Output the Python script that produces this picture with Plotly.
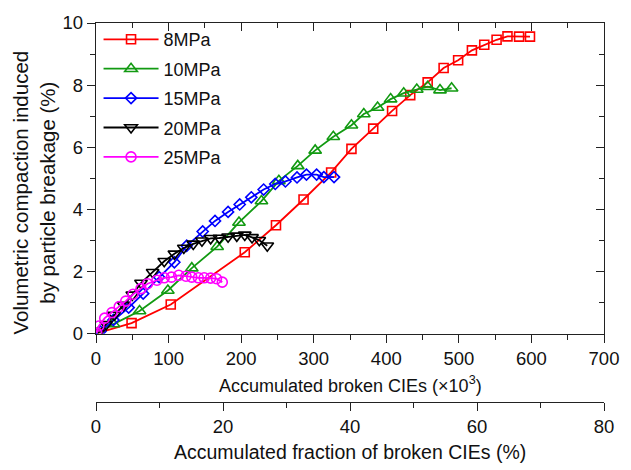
import plotly.graph_objects as go

# ---- data ----
x_8 = [2, 49, 103, 205, 248, 286, 324, 352, 382, 408, 433, 457, 479, 499, 518, 535, 552, 567, 583, 598]
y_8 = [0.02, 0.34, 0.94, 2.62, 3.49, 4.32, 5.19, 5.95, 6.60, 7.17, 7.68, 8.09, 8.55, 8.80, 9.12, 9.30, 9.46, 9.57, 9.56, 9.56]

x_10 = [2, 24, 60, 99, 132, 167, 197, 228, 252, 278, 302, 327, 352, 369, 388, 406, 424, 442, 457, 474, 490]
y_10 = [0.02, 0.31, 0.73, 1.39, 2.11, 2.80, 3.58, 4.27, 4.92, 5.40, 5.90, 6.34, 6.71, 7.07, 7.28, 7.55, 7.74, 7.86, 7.95, 7.84, 7.90]

x_15 = [6, 24, 45, 65, 87, 108, 125, 147, 164, 182, 198, 214, 231, 247, 261, 277, 290, 304, 314, 328]
y_15 = [0.07, 0.44, 0.84, 1.29, 1.82, 2.30, 2.83, 3.29, 3.63, 3.92, 4.16, 4.39, 4.64, 4.82, 4.90, 5.03, 5.12, 5.12, 5.04, 5.04]

x_20 = [3, 14, 25, 38, 50, 62, 78, 94, 108, 121, 134, 146, 158, 170, 182, 194, 205, 215, 225, 236]
y_20 = [0.03, 0.30, 0.60, 0.92, 1.25, 1.63, 1.98, 2.33, 2.57, 2.76, 2.89, 2.99, 3.07, 3.08, 3.12, 3.15, 3.18, 3.10, 3.01, 2.83]

x_25 = [1, 4, 12, 22, 32, 41, 51, 62, 71, 84, 94, 104, 114, 124, 132, 141, 149, 158, 166, 174]
y_25 = [0.02, 0.25, 0.50, 0.68, 0.87, 1.05, 1.27, 1.45, 1.61, 1.72, 1.80, 1.82, 1.88, 1.85, 1.82, 1.80, 1.80, 1.79, 1.77, 1.66]

names = ["8MPa", "10MPa", "15MPa", "20MPa", "25MPa"]
xs = [x_8, x_10, x_15, x_20, x_25]
ys = [y_8, y_10, y_15, y_20, y_25]
colors = ["#ff0000", "#129a12", "#0000ff", "#000000", "#ff00ff"]
symbols = ["square-open", "triangle-up-open", "diamond-open", "triangle-down-open", "circle-open"]
sizes = [9, 11, 8.5, 11, 10]

x_ticks_main = [0, 100, 200, 300, 400, 500, 600, 700]
x_ticks_frac = [0, 20, 40, 60, 80]
y_ticks = [0, 2, 4, 6, 8, 10]

FONT = "Liberation Sans, Arial, sans-serif"

fig = go.Figure()
for n, x, y, c, s, sz in zip(names, xs, ys, colors, symbols, sizes):
    fig.add_trace(go.Scatter(
        x=x, y=y, name=n, mode="lines+markers",
        line=dict(color=c, width=1.8),
        marker=dict(symbol=s, size=sz, color=c, line=dict(width=1.6, color=c)),
        legendgroup=n,
    ))

# dummy traces so that the extra axes are drawn
fig.add_trace(go.Scatter(x=[0], y=[0], xaxis="x3", yaxis="y2", mode="markers",
                         marker=dict(opacity=0), showlegend=False, hoverinfo="skip"))
fig.add_trace(go.Scatter(x=[0], y=[0], xaxis="x2", yaxis="y", mode="markers",
                         marker=dict(opacity=0), showlegend=False, hoverinfo="skip"))

ydom = [0.1802, 1.0]
axis_common = dict(showgrid=False, zeroline=False, showline=True, linecolor="#222222",
                   linewidth=1.3, tickcolor="#222222", tickwidth=1.3,
                   tickfont=dict(size=18.5, family=FONT, color="#111111"))

fig.update_layout(
    width=631, height=470,
    margin=dict(l=96, r=16, t=19, b=68),
    paper_bgcolor="white", plot_bgcolor="white",
    font=dict(family=FONT, size=18, color="#111111"),
    showlegend=True,
    legend=dict(x=0.005, y=1.005, xanchor="left", yanchor="top",
                bgcolor="rgba(0,0,0,0)", font=dict(size=18, family=FONT, color="#111111"),
                tracegroupgap=3, itemwidth=55),
    xaxis=dict(range=[0, 700], tickvals=x_ticks_main, ticks="outside", ticklen=8,
               minor=dict(ticks="outside", ticklen=5, dtick=50, tickcolor="#222222", tickwidth=1.3),
               anchor="y", **axis_common),
    yaxis=dict(range=[0, 10], tickvals=y_ticks, ticks="outside", ticklen=8,
               minor=dict(ticks="outside", ticklen=5, dtick=1, tickcolor="#222222", tickwidth=1.3),
               domain=ydom, anchor="x", **axis_common),
    xaxis3=dict(range=[0, 700], tickvals=x_ticks_main, ticks="inside", ticklen=8,
                minor=dict(ticks="inside", ticklen=5, dtick=50, tickcolor="#222222", tickwidth=1.3),
                showticklabels=False, overlaying="x", side="top", anchor="y2", **axis_common),
    yaxis2=dict(range=[0, 10], tickvals=y_ticks, ticks="inside", ticklen=8,
                minor=dict(ticks="inside", ticklen=5, dtick=1, tickcolor="#222222", tickwidth=1.3),
                showticklabels=False, overlaying="y", side="right", anchor="x3", domain=ydom,
                **axis_common),
    xaxis2=dict(range=[0, 80], tickvals=x_ticks_frac, ticks="outside", ticklen=8,
                minor=dict(ticks="outside", ticklen=5, dtick=10, tickcolor="#222222", tickwidth=1.3),
                anchor="free", position=0, overlaying="x", side="bottom", **axis_common),
)

fig.add_annotation(text="Accumulated broken CIEs (×10<sup>3</sup>)", xref="paper", yref="paper",
                   x=0.5, y=(402 - 384) / 383, xanchor="center", yanchor="middle",
                   showarrow=False, font=dict(size=18, family=FONT, color="#111111"))
fig.add_annotation(text="Accumulated fraction of broken CIEs (%)", xref="paper", yref="paper",
                   x=0.5, y=(402 - 453) / 383, xanchor="center", yanchor="middle",
                   showarrow=False, font=dict(size=19.5, family=FONT, color="#111111"))
fig.add_annotation(text="Volumetric compaction induced<br>by particle breakage (%)",
                   xref="paper", yref="paper", x=-(96 - 33) / 519, y=(402 - 190) / 383,
                   xanchor="center", yanchor="middle", textangle=-90, showarrow=False,
                   font=dict(size=20.5, family=FONT, color="#111111"))

fig.write_html("out.html")
